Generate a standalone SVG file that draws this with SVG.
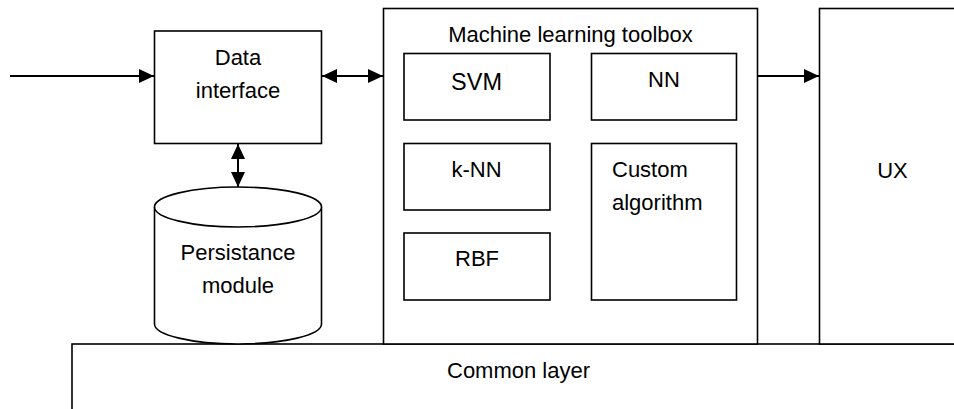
<svg xmlns="http://www.w3.org/2000/svg" width="954" height="409" viewBox="0 0 954 409">
  <style>
    .box { fill: #ffffff; stroke: #000000; stroke-width: 1.6; }
    .conn { stroke: #000000; stroke-width: 2; fill: none; }
    .t { font-family: "Liberation Sans", Arial, sans-serif; font-size: 22px; fill: #000000; }
    .c { text-anchor: middle; }
  </style>
  <defs>
    <marker id="ah" markerUnits="userSpaceOnUse" markerWidth="15" markerHeight="14" refX="15" refY="7" orient="auto-start-reverse">
      <path d="M0,0 L15,7 L0,14 z" fill="#000000"/>
    </marker>
  </defs>
  <rect width="954" height="409" fill="#ffffff"/>

  <g id="common-layer">
    <rect class="box" x="72" y="344" width="900" height="80"/>
    <text class="t" x="447" y="378">Common layer</text>
  </g>

  <g id="data-interface">
    <rect class="box" x="154.5" y="31" width="167" height="112.5"/>
    <text class="t c" x="238" y="65">Data</text>
    <text class="t c" x="238" y="98">interface</text>
  </g>

  <g id="persistance-module">
    <path class="box" d="M154.5,207 L154.5,324 A83.5,20 0 0 0 321.5,324 L321.5,207 A83.5,20 0 0 0 154.5,207 Z"/>
    <path class="box" d="M154.5,207 A83.5,20 0 0 0 321.5,207" fill="none"/>
    <text class="t c" x="238" y="260">Persistance</text>
    <text class="t c" x="238" y="293">module</text>
  </g>

  <g id="ml-toolbox">
    <rect class="box" x="383.5" y="8.5" width="374" height="335.5"/>
    <text class="t c" x="570.5" y="42">Machine learning toolbox</text>
  </g>

  <g id="svm">
    <rect class="box" x="404" y="53.5" width="146" height="66.5"/>
    <text class="t c" x="476.5" y="90" style="font-size:23.5px">SVM</text>
  </g>

  <g id="nn">
    <rect class="box" x="591.5" y="53.5" width="145" height="66.5"/>
    <text class="t c" x="664" y="87">NN</text>
  </g>

  <g id="knn">
    <rect class="box" x="404" y="143.5" width="146" height="66.5"/>
    <text class="t c" x="476.5" y="177">k-NN</text>
  </g>

  <g id="rbf">
    <rect class="box" x="404" y="233" width="146" height="67"/>
    <text class="t c" x="477" y="266">RBF</text>
  </g>

  <g id="custom-algorithm">
    <rect class="box" x="591.5" y="143.5" width="145" height="156.5"/>
    <text class="t" x="612" y="177">Custom</text>
    <text class="t" x="612" y="210">algorithm</text>
  </g>

  <g id="ux">
    <rect class="box" x="819.5" y="8.5" width="150" height="335.5"/>
    <text class="t c" x="892.5" y="178">UX</text>
  </g>

  <g id="connectors">
    <line class="conn" x1="10" y1="76" x2="154" y2="76" marker-end="url(#ah)"/>
    <line class="conn" x1="322" y1="76" x2="383" y2="76" marker-start="url(#ah)" marker-end="url(#ah)"/>
    <line class="conn" x1="238" y1="144" x2="238" y2="187" marker-start="url(#ah)" marker-end="url(#ah)"/>
    <line class="conn" x1="758" y1="76" x2="819" y2="76" marker-end="url(#ah)"/>
  </g>
</svg>
